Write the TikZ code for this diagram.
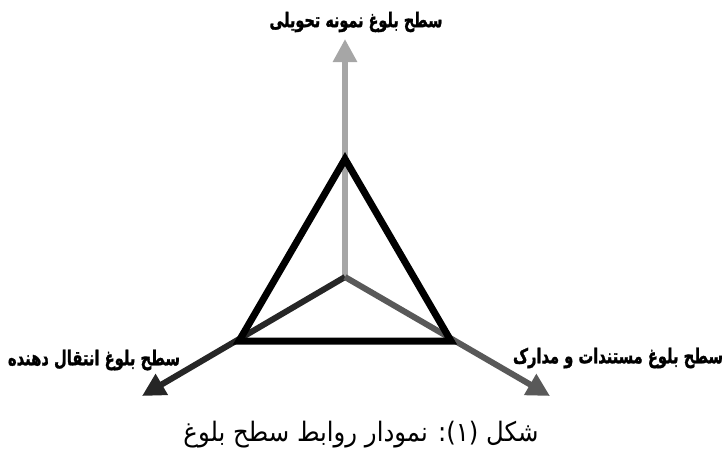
\documentclass[tikz,border=0pt]{standalone}
\usepackage{fontspec}
\usepackage{graphicx}
\setmainfont{DejaVu Sans}
\newfontfamily\arabicfont[Script=Arabic]{DejaVu Sans}
\newfontfamily\arabicheavy[Script=Arabic,FakeBold=1.6]{DejaVu Sans Bold}
\TeXXeTstate=1
\usetikzlibrary{arrows.meta}
\definecolor{axisU}{HTML}{A6A6A6}
\definecolor{axisL}{HTML}{262626}
\definecolor{axisR}{HTML}{595959}
\begin{document}
\begin{tikzpicture}[x=1pt,y=-1pt,
  axis/.style={line width=6pt,-{Triangle[length=23pt,width=23pt]}},
  tri/.style={line width=7pt,draw=black,line join=miter},
  lbl/.style={font=\arabicheavy\fontsize{12}{14}\selectfont,inner sep=0pt},
  captxt/.style={font=\arabicfont\fontsize{16}{19}\selectfont,inner sep=0pt}]
\useasboundingbox (0,0) rectangle (726,453);
\coordinate (O) at (345,277);
\coordinate (tipU) at (345,39);
\coordinate (tipL) at (142,396);
\coordinate (tipR) at (550,396);
\coordinate (A) at (345,159);
\coordinate (B) at (239,341);
\coordinate (C) at (451,341);
\draw[axis,draw=axisU,fill=axisU] (O) -- (tipU);
\draw[axis,draw=axisL,fill=axisL] (O) -- (tipL);
\draw[axis,draw=axisR,fill=axisR] (O) -- (tipR);
\draw[tri] (A) -- (B) -- (C) -- cycle;
\node[lbl] (labU) at (356,22) {\scalebox{1}[1.4]{\resizebox{173pt}{!}{\beginR سطح بلوغ نمونه تحویلی\endR}}};
\node[lbl] (labL) at (94,360) {\scalebox{1}[1.4]{\resizebox{172pt}{!}{\beginR سطح بلوغ انتقال دهنده\endR}}};
\node[lbl] (labR) at (618,358) {\scalebox{1}[1.4]{\resizebox{210pt}{!}{\beginR سطح بلوغ مستندات و مدارک\endR}}};
\node[captxt] (caption) at (361,435) {\scalebox{1}[1.1]{\resizebox{355pt}{!}{\beginR شکل (۱): نمودار روابط سطح بلوغ\endR}}};
\end{tikzpicture}
\end{document}
